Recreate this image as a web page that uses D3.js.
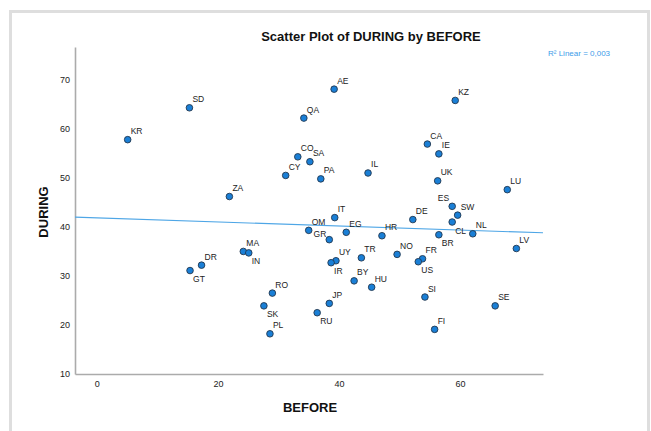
<!DOCTYPE html>
<html><head><meta charset="utf-8">
<script src="https://cdn.jsdelivr.net/npm/d3@7"></script>
<style>html,body{margin:0;padding:0;background:#fff;}svg{display:block;}</style>
</head><body>
<svg id="c" width="651" height="431"></svg>
<script>
const codes  = ["KR","SD","ZA","GT","DR","MA","IN","AE","QA","CO","SA","CY","PA","IL","IT","OM","EG","GR","HR","UY","IR","TR","BY","HU","RO","SK","PL","JP","RU","NO","DE","CA","IE","UK","KZ","ES","SW","CL","NL","BR","LU","LV","FR","US","SI","SE","FI"];
const before = [5.1,15.3,21.9,15.4,17.3,24.2,25.1,39.2,34.2,33.2,35.2,31.2,37.0,44.8,39.3,35.0,41.2,38.4,47.1,39.5,38.7,43.7,42.5,45.4,29.0,27.6,28.6,38.4,36.4,49.6,52.2,54.6,56.5,56.3,59.2,58.7,59.6,58.7,62.1,56.5,67.8,69.3,53.8,53.1,54.2,65.8,55.8];
const during = [57.8,64.3,46.2,31.1,32.2,35.0,34.7,68.1,62.2,54.3,53.3,50.5,49.8,51.0,41.9,39.3,38.9,37.4,38.2,33.1,32.7,33.7,29.0,27.7,26.5,23.9,18.2,24.4,22.5,34.4,41.5,56.9,54.9,49.4,65.8,44.2,42.4,41.0,38.6,38.4,47.6,35.6,33.5,32.9,25.7,23.9,19.1];
// label placement relative to the point: ur = upper right, lr = lower right, ul = upper left, l = left
const labelPlace = {GT:"lr",IN:"lr",CL:"lr",BR:"lr",US:"lr",IR:"lr",SK:"lr",RU:"lr",ES:"ul",GR:"l"};
const xTicks = [0,20,40,60];
const yTicks = [10,20,30,40,50,60,70];
const fitIntercept = 41.85, fitSlope = -0.0414;
const fitLabel = "R\u00b2 Linear = 0,003";
const title = "Scatter Plot of DURING by BEFORE";
const xTitle = "BEFORE", yTitle = "DURING";

const svg = d3.select("#c");
const font = "'Liberation Sans', Arial, sans-serif";
svg.append("rect").attr("x",10.5).attr("y",11.5).attr("width",638).attr("height",440)
  .attr("fill","#fff").attr("stroke","#dedede").attr("stroke-width",3);

const x = d3.scaleLinear().domain([-3.6,73.7]).range([75,543]);
const y = d3.scaleLinear().domain([10,76.7]).range([374,47]);

svg.append("text").attr("x",371).attr("y",41).attr("text-anchor","middle")
  .attr("font-family",font).attr("font-size",13).attr("font-weight","bold").attr("fill","#111").text(title);

const xa = svg.append("g").attr("transform","translate(0,374)")
  .call(d3.axisBottom(x).tickValues(xTicks).tickSize(0).tickPadding(7).tickFormat(d3.format("d")));
const ya = svg.append("g").attr("transform","translate(75,0)")
  .call(d3.axisLeft(y).tickValues(yTicks).tickSize(0).tickPadding(5).tickFormat(d3.format("d")));
[xa,ya].forEach(a=>{
  a.select(".domain").attr("stroke","#ababab").attr("stroke-width",1.6);
  a.selectAll("text").attr("font-family",font).attr("font-size",9).attr("fill","#222");
});

svg.append("text").attr("x",310).attr("y",412).attr("text-anchor","middle")
  .attr("font-family",font).attr("font-size",13).attr("font-weight","bold").attr("fill","#111").text(xTitle);
svg.append("text").attr("transform","translate(48,212) rotate(-90)").attr("text-anchor","middle")
  .attr("font-family",font).attr("font-size",13).attr("font-weight","bold").attr("fill","#111").text(yTitle);

const xd = x.domain();
svg.append("line")
  .attr("x1",x(xd[0])).attr("y1",y(fitIntercept+fitSlope*xd[0]))
  .attr("x2",x(xd[1])).attr("y2",y(fitIntercept+fitSlope*xd[1]))
  .attr("stroke","#4ea6e6").attr("stroke-width",1.1);
svg.append("text").attr("x",548).attr("y",56).attr("font-family",font).attr("font-size",8)
  .attr("fill","#3d9be9").text(fitLabel);

const data = codes.map((c,i)=>({c, bx:before[i], dy:during[i], p:labelPlace[c]||"ur"}));
svg.append("g").selectAll("circle").data(data).join("circle")
  .attr("cx",d=>x(d.bx)).attr("cy",d=>y(d.dy)).attr("r",3.3)
  .attr("fill","#1a7fd6").attr("stroke","#22384f").attr("stroke-width",0.9);
const off = {ur:[3,-5.5,"start"], lr:[3,11.5,"start"], ul:[-3,-5.5,"end"], l:[-3,-3,"end"]};
svg.append("g").selectAll("text").data(data).join("text")
  .attr("x",d=>x(d.bx)+off[d.p][0]).attr("y",d=>y(d.dy)+off[d.p][1])
  .attr("text-anchor",d=>off[d.p][2])
  .attr("font-family",font).attr("font-size",8.5).attr("fill","#222").text(d=>d.c);
</script>
</body></html>
